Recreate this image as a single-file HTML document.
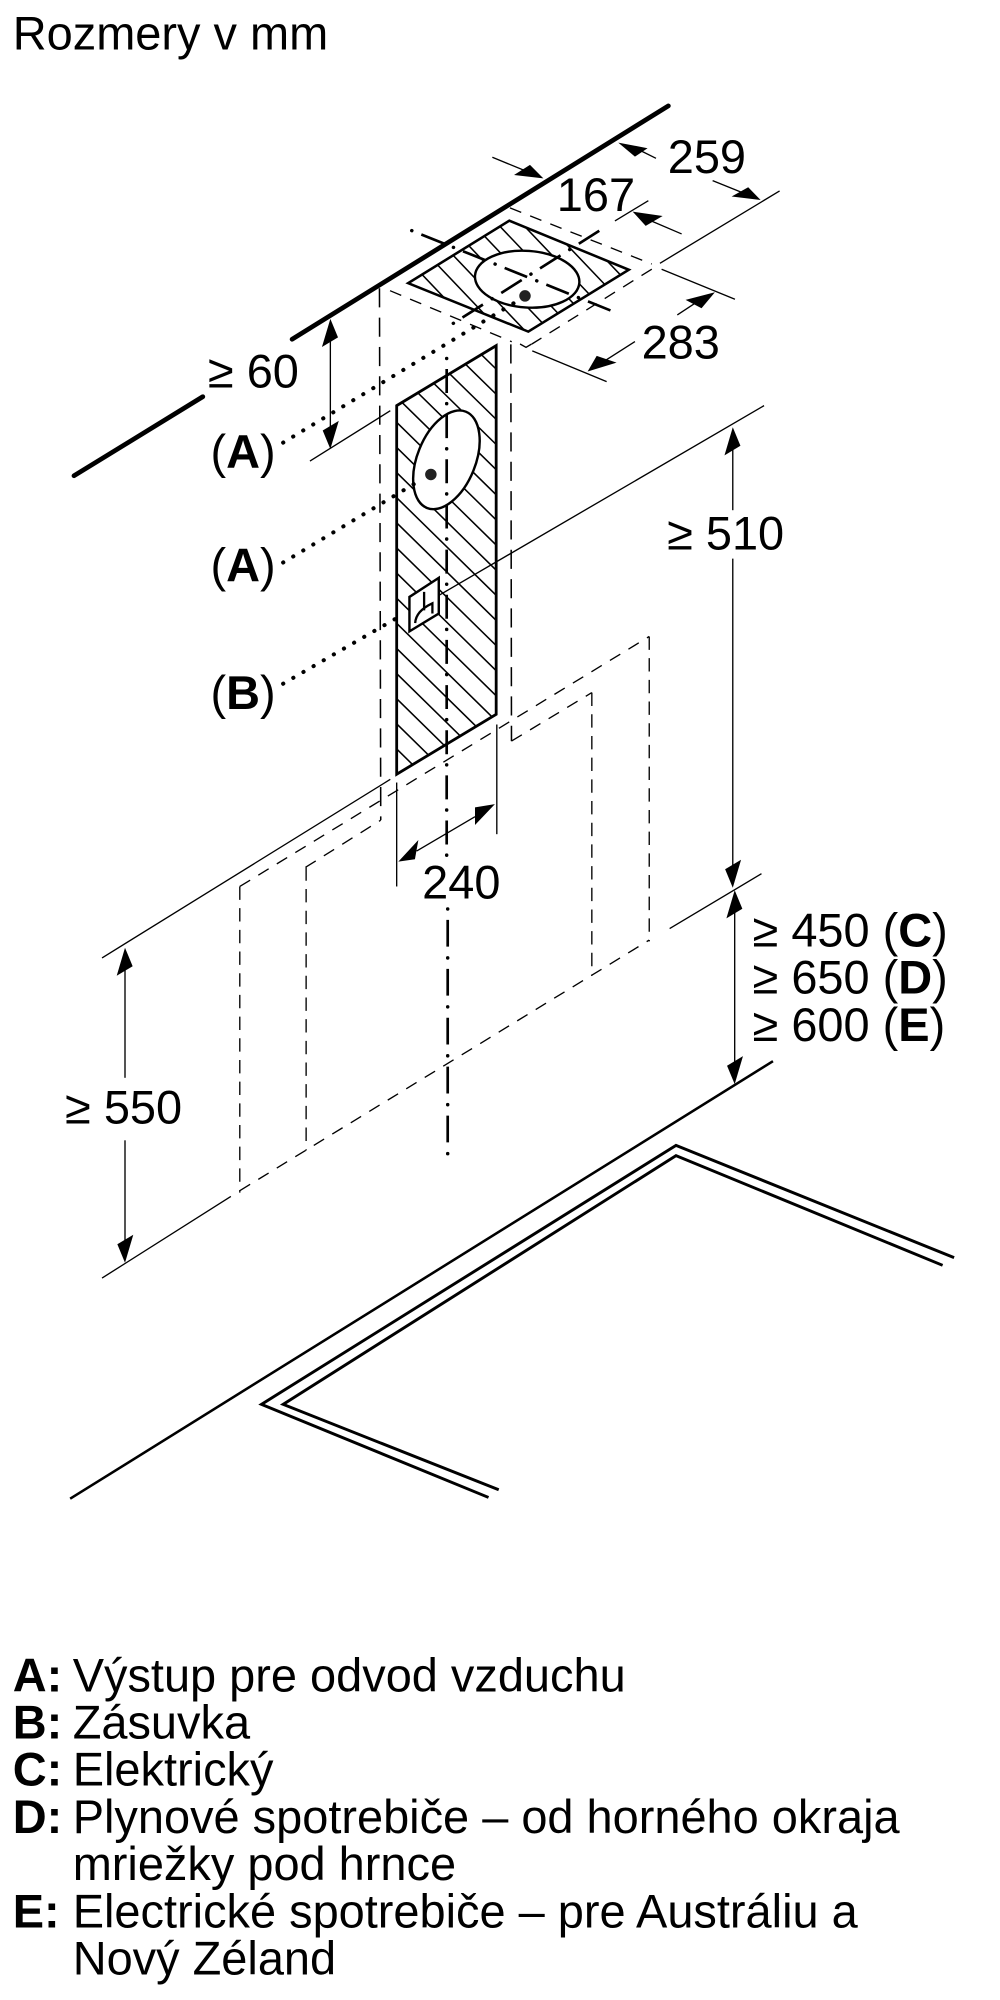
<!DOCTYPE html>
<html lang="sk">
<head>
<meta charset="utf-8">
<title>Rozmery v mm</title>
<style>
html,body{margin:0;padding:0;background:#fff;}
svg{display:block;width:1000px;height:2000px;}
text{font-family:"Liberation Sans",Arial,sans-serif;font-size:36.8px;fill:#000;}
.b{font-weight:bold;}
.t{stroke:#000;stroke-width:1.05;fill:none;}
.d{stroke:#000;stroke-width:1.05;fill:none;stroke-dasharray:9.5 7.5;}
.v{stroke:#000;stroke-width:1.05;fill:none;stroke-dasharray:10.5 6.5;}
.p{stroke:#000;stroke-width:1.2;fill:none;stroke-dasharray:15 8;}
.h{stroke:#000;stroke-width:1.2;fill:none;}
.cd{stroke:#000;stroke-width:2.1;fill:none;}
.cp{stroke:#000;stroke-width:2.7;fill:none;stroke-linecap:round;}
.o{stroke:#000;stroke-width:3.2;fill:none;stroke-dasharray:0.1 9.07;stroke-linecap:round;}
</style>
</head>
<body>
<svg xmlns="http://www.w3.org/2000/svg" viewBox="0 0 784 1568" width="1000" height="2000">
<defs>
<clipPath id="pc"><polygon points="311,318 389,271 389,560 311,607"/></clipPath>
<clipPath id="rc"><polygon points="399.3,173 493,211.5 414.2,260 320,222"/></clipPath>
</defs>
<rect x="0" y="0" width="784" height="1568" fill="#fff"/>

<text x="10" y="39">Rozmery v mm</text>

<!-- wall top thick line -->
<line x1="524" y1="83" x2="229" y2="266" stroke="#000" stroke-width="3.7" stroke-linecap="round"/>
<line x1="159" y1="311" x2="58" y2="373" stroke="#000" stroke-width="3.7" stroke-linecap="round"/>

<!-- top rhombus hatch -->
<g clip-path="url(#rc)" class="h">
<line x1="310" y1="193.3" x2="500" y2="392.8"/>
<line x1="310" y1="173" x2="500" y2="372.5"/>
<line x1="310" y1="152.6" x2="500" y2="352.1"/>
<line x1="310" y1="132.2" x2="500" y2="331.7"/>
<line x1="310" y1="111.8" x2="500" y2="311.3"/>
<line x1="310" y1="91.4" x2="500" y2="290.9"/>
<line x1="310" y1="71.1" x2="500" y2="270.6"/>
<line x1="310" y1="50.7" x2="500" y2="250.2"/>
<line x1="310" y1="30.3" x2="500" y2="229.8"/>
</g>
<polygon points="399.3,173 493,211.5 414.2,260 320,222" fill="none" stroke="#000" stroke-width="2" stroke-linejoin="miter"/>
<ellipse cx="413.3" cy="218.9" rx="41" ry="22.2" transform="rotate(4 413.3 218.9)" fill="#fff" stroke="#000" stroke-width="1.9"/>
<circle cx="411.6" cy="232" r="4.5" fill="#222"/>

<!-- top dash-dot cross -->
<line class="cd" style="stroke-dasharray:0 8.1 19 8.1" x1="322.8" y1="180.8" x2="486.1" y2="246.4"/>
<line class="cp" style="stroke-dasharray:0.1 35.1" x1="322.8" y1="180.8" x2="486.1" y2="246.4"/>
<line class="cd" style="stroke-dasharray:0 8.5 19 8.5" x1="355.4" y1="253.5" x2="477" y2="176.4"/>
<line class="cp" style="stroke-dasharray:0.1 35.9" x1="355.4" y1="253.5" x2="477" y2="176.4"/>

<!-- dashed outline around rhombus -->
<line class="d" x1="399.8" y1="163" x2="511" y2="207"/>
<line class="d" x1="511" y1="211" x2="417" y2="269.7"/>
<line class="d" x1="305.8" y1="227.9" x2="401.2" y2="267.9"/>
<polyline class="t" points="407.7,269.7 412.4,272.3 416.8,269.7"/>

<!-- vertical dashed around panel -->
<line class="p" x1="297.5" y1="226" x2="298.5" y2="643"/>
<line class="p" x1="400.5" y1="270" x2="401" y2="581"/>

<!-- panel -->
<g clip-path="url(#pc)" class="h">
<line x1="311" y1="212.9" x2="389" y2="289.4"/>
<line x1="311" y1="232.6" x2="389" y2="309.1"/>
<line x1="311" y1="252.3" x2="389" y2="328.8"/>
<line x1="311" y1="272" x2="389" y2="348.5"/>
<line x1="311" y1="291.7" x2="389" y2="368.2"/>
<line x1="311" y1="311.4" x2="389" y2="387.9"/>
<line x1="311" y1="331.1" x2="389" y2="407.6"/>
<line x1="311" y1="350.8" x2="389" y2="427.3"/>
<line x1="311" y1="370.5" x2="389" y2="447"/>
<line x1="311" y1="390.2" x2="389" y2="466.7"/>
<line x1="311" y1="409.9" x2="389" y2="486.4"/>
<line x1="311" y1="429.6" x2="389" y2="506.1"/>
<line x1="311" y1="449.3" x2="389" y2="525.8"/>
<line x1="311" y1="469" x2="389" y2="545.5"/>
<line x1="311" y1="488.7" x2="389" y2="565.2"/>
<line x1="311" y1="508.4" x2="389" y2="584.9"/>
<line x1="311" y1="528.1" x2="389" y2="604.6"/>
<line x1="311" y1="547.8" x2="389" y2="624.3"/>
<line x1="311" y1="567.5" x2="389" y2="644"/>
<line x1="311" y1="587.2" x2="389" y2="663.7"/>
</g>
<polygon points="311,318 389,271 389,560 311,607" fill="none" stroke="#000" stroke-width="2.2"/>
<ellipse cx="350" cy="360.5" rx="22.8" ry="40.7" transform="rotate(22 350 360.5)" fill="#fff" stroke="#000" stroke-width="1.9"/>
<circle cx="337.8" cy="372" r="4.5" fill="#222"/>

<!-- centre axis -->
<line class="cd" style="stroke-dasharray:0 8.3 18.8 8.3" x1="350.2" y1="281" x2="350.2" y2="670.5"/>
<line class="cp" style="stroke-dasharray:0.1 35.3" x1="350.2" y1="281" x2="350.2" y2="671"/>
<line class="cd" style="stroke-dasharray:0 8.6 21 8.76" x1="351" y1="712.6" x2="351" y2="904.6"/>
<line class="cp" style="stroke-dasharray:0.1 38.26" x1="351" y1="712.6" x2="351" y2="905"/>

<!-- socket -->
<line class="t" x1="342" y1="468" x2="599" y2="318"/>
<polygon points="321,468 344,453 344,481 321,495" fill="#fff" stroke="#000" stroke-width="1.9"/>
<path d="M332.5 464 V478.5 M325.5 488.5 Q326 479 339 473 V481" fill="none" stroke="#000" stroke-width="1.8"/>

<!-- dotted leaders -->
<line class="o" x1="222" y1="347" x2="402.6" y2="237.8"/>
<line class="o" x1="222" y1="441" x2="332" y2="375"/>
<line class="o" x1="222" y1="536" x2="312" y2="484"/>

<!-- lower dashed frame -->
<line class="d" x1="188" y1="695" x2="509" y2="499"/>
<line class="d" x1="239.5" y1="680" x2="298.5" y2="643"/>
<line class="d" x1="401" y1="581" x2="464" y2="543"/>
<line class="d" x1="188" y1="933.5" x2="509" y2="737"/>
<line class="v" x1="188" y1="695" x2="188" y2="935"/>
<line class="v" x1="240" y1="680" x2="240" y2="902"/>
<line class="v" x1="464" y1="543" x2="464" y2="765"/>
<line class="v" x1="509" y1="499" x2="509" y2="738"/>

<!-- extension lines -->
<line class="t" x1="243" y1="361.5" x2="306" y2="322"/>
<line class="t" x1="80" y1="751" x2="306" y2="611"/>
<line class="t" x1="80" y1="1002" x2="181" y2="938"/>
<line class="t" x1="525" y1="728" x2="597" y2="685"/>
<line class="t" x1="311" y1="613.5" x2="311" y2="695"/>
<line class="t" x1="389.5" y1="568" x2="389.5" y2="654"/>
<line class="t" x1="517.4" y1="206.4" x2="611.2" y2="149.7"/>
<line class="t" x1="482.1" y1="173.2" x2="508.3" y2="157.3"/>
<line class="t" x1="518.7" y1="211.1" x2="576.2" y2="234.6"/>
<line class="t" x1="417.3" y1="275.1" x2="475.6" y2="299.2"/>

<!-- dims: top -->
<line class="t" x1="500" y1="117" x2="514.3" y2="124.1"/>
<polygon points="484.7,111.8 497.8,122.8 507.7,116.2"/>
<line class="t" x1="558.7" y1="141.6" x2="582" y2="151"/>
<polygon points="596.3,156.8 573.6,154.1 586.6,146.8"/>
<line class="t" x1="386" y1="123.3" x2="412" y2="134"/>
<polygon points="426,139.8 403,137.2 415.5,129.3"/>
<line class="t" x1="510" y1="173" x2="534.4" y2="183.4"/>
<polygon points="496,165.9 506.2,177.1 519.5,169.3"/>
<line class="t" x1="531" y1="246.9" x2="546" y2="237"/>
<polygon points="560.5,229.1 537.5,235.1 550,241.7"/>
<line class="t" x1="497.8" y1="267.8" x2="474" y2="283"/>
<polygon points="460.7,291.3 467.8,279 483.4,284.3"/>

<!-- dims: 60 -->
<line class="t" x1="259" y1="262" x2="259" y2="340"/>
<polygon points="259,250 265,264.5 252.4,272"/>
<polygon points="259,352 253,337.5 265.6,330"/>

<!-- dims: 510 -->
<line class="t" x1="574.5" y1="345" x2="574.5" y2="400"/>
<line class="t" x1="574.5" y1="438" x2="574.5" y2="685"/>
<polygon points="574.5,335 580.5,349.5 568,357"/>
<polygon points="574.5,696 568.5,681.5 581,674"/>

<!-- dims: 450/650/600 -->
<line class="t" x1="576" y1="710" x2="576" y2="838"/>
<polygon points="576,698 582,712.5 569.5,720"/>
<polygon points="576,850 570,835.5 582.5,828"/>

<!-- dims: 550 -->
<line class="t" x1="98" y1="755" x2="98" y2="845"/>
<line class="t" x1="98" y1="894" x2="98" y2="978"/>
<polygon points="98,743 104,757.5 91.5,765"/>
<polygon points="98,990 92,975.5 104.5,968"/>

<!-- dims: 240 -->
<line class="t" x1="326.6" y1="667.2" x2="372.4" y2="640.3"/>
<polygon points="312.3,675.5 328,658.6 325.3,673.7"/>
<polygon points="388,630.4 372.4,633 372.4,646.8"/>

<!-- worktop -->
<line x1="606" y1="832" x2="55" y2="1175" stroke="#000" stroke-width="2"/>
<polyline points="748,986 530,898 205,1101 383,1174" fill="none" stroke="#000" stroke-width="2.3"/>
<polyline points="739,992 530,906 222,1101 391,1168" fill="none" stroke="#000" stroke-width="2.3"/>

<!-- labels -->
<text x="523.5" y="135.5">259</text>
<text x="436.5" y="165.5">167</text>
<text x="503" y="281">283</text>
<text x="163" y="304">≥ 60</text>
<text x="165" y="367">(<tspan class="b">A</tspan>)</text>
<text x="165" y="456">(<tspan class="b">A</tspan>)</text>
<text x="165" y="556">(<tspan class="b">B</tspan>)</text>
<text x="523" y="431">≥ 510</text>
<text x="331" y="704.5">240</text>
<text x="590" y="742">≥ 450 (<tspan class="b">C</tspan>)</text>
<text x="590" y="779">≥ 650 (<tspan class="b">D</tspan>)</text>
<text x="590" y="816">≥ 600 (<tspan class="b">E</tspan>)</text>
<text x="51" y="881">≥ 550</text>

<!-- legend -->
<text class="b" x="10" y="1326">A:</text><text x="57" y="1326">Výstup pre odvod vzduchu</text>
<text class="b" x="10" y="1363">B:</text><text x="57" y="1363">Zásuvka</text>
<text class="b" x="10" y="1400">C:</text><text x="57" y="1400">Elektrický</text>
<text class="b" x="10" y="1437">D:</text><text x="57" y="1437">Plynové spotrebiče – od horného okraja</text>
<text x="57" y="1474">mriežky pod hrnce</text>
<text class="b" x="10" y="1511">E:</text><text x="57" y="1511">Electrické spotrebiče – pre Austráliu a</text>
<text x="57" y="1548">Nový Zéland</text>
</svg>
</body>
</html>
